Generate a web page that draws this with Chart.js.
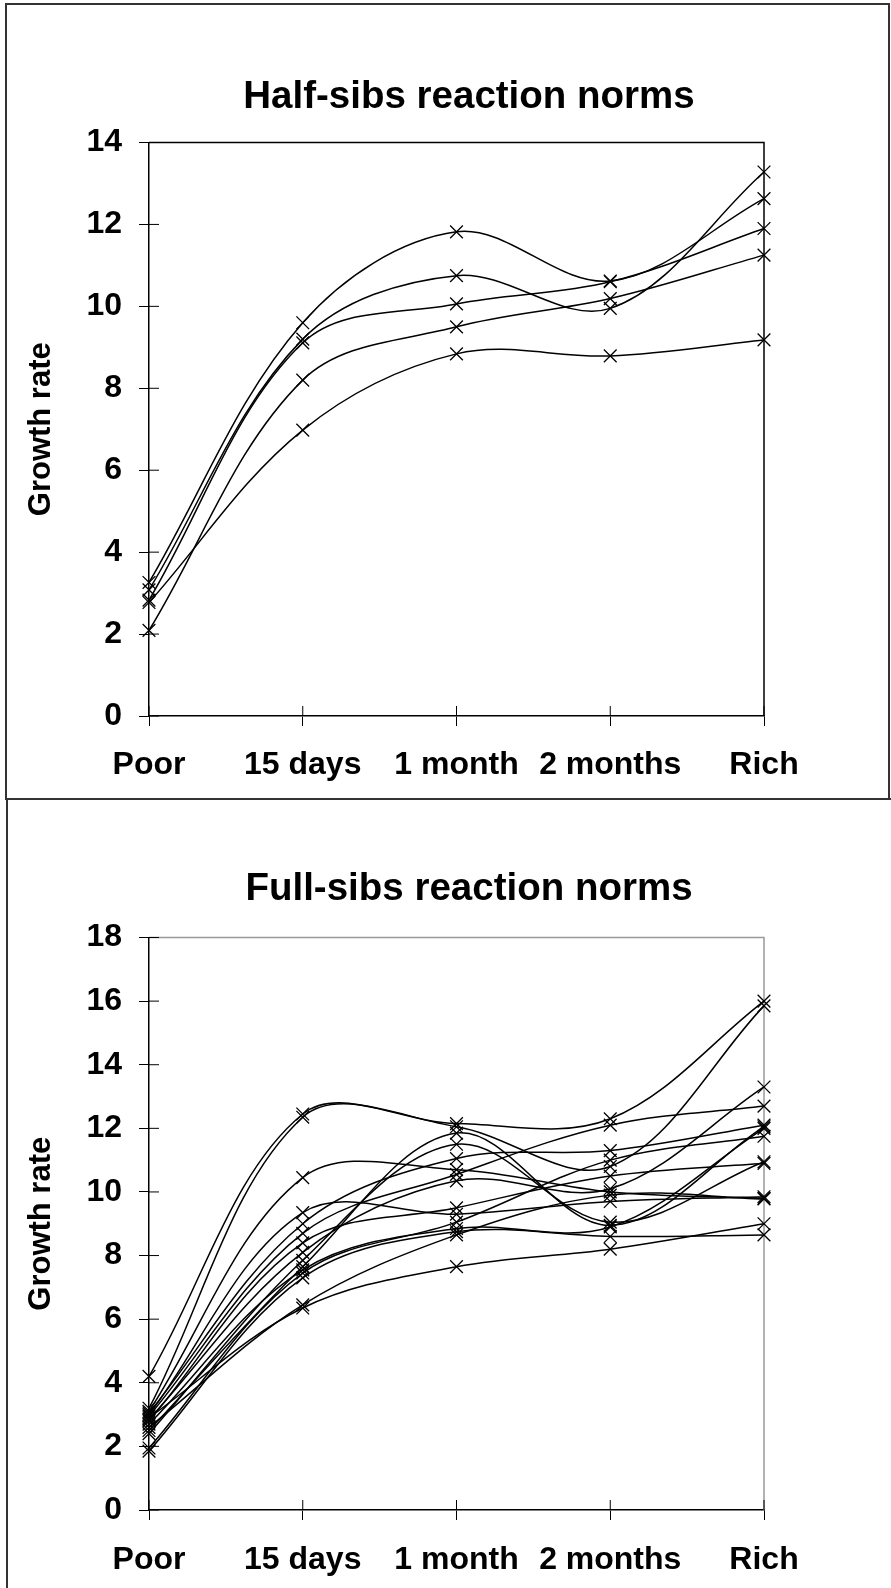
<!DOCTYPE html>
<html>
<head>
<meta charset="utf-8">
<script src="https://cdn.jsdelivr.net/npm/chart.js@4.4.1/dist/chart.umd.min.js"></script>
<style>
html, body { margin: 0; padding: 0; background: #fff; overflow: hidden; width: 891px; height: 1588px; position: relative; }
.box { position: absolute; box-sizing: border-box; border: 2px solid #333; }
#box1 { left: 5px; top: 3px; width: 885px; height: 797px; }
#box2 { left: 6px; top: 798px; width: 900px; height: 900px; }
canvas { position: absolute; left: 0; }
#halfChart { top: 0; }
#fullChart { top: 801px; }
</style>
</head>
<body>
<div class="box" id="box1"></div>
<div class="box" id="box2"></div>
<canvas id="halfChart" width="891" height="799"></canvas>
<canvas id="fullChart" width="891" height="787"></canvas>
<script>
const categories = ['Poor', '15 days', '1 month', '2 months', 'Rich'];

// half-sib families, one row per family
const halfSibs = [
  [3.26, 9.6, 11.82, 10.62, 12.63],
  [3.08, 9.2, 10.75, 9.95, 13.28],
  [2.83, 9.11, 10.06, 10.6, 11.9],
  [2.09, 8.2, 9.5, 10.19, 11.25],
  [2.77, 6.98, 8.84, 8.79, 9.18]
];

// full-sib families
const fullSibs = [
  [4.2, 12.45, 12.15, 12.3, 16.0],
  [3.2, 12.35, 12.05, 10.8, 15.85],
  [3.1, 10.45, 10.7, 10.0, 9.8],
  [2.5, 7.65, 11.85, 8.95, 12.05],
  [2.4, 7.85, 11.5, 9.05, 10.95],
  [3.05, 9.0, 11.05, 11.3, 12.1],
  [2.95, 8.7, 10.55, 12.1, 12.7],
  [2.85, 8.1, 10.35, 10.1, 13.3],
  [2.8, 8.4, 9.5, 10.5, 10.9],
  [3.0, 9.35, 9.3, 9.7, 9.85],
  [1.95, 7.45, 9.05, 11.0, 11.75],
  [2.7, 7.55, 8.85, 8.9, 12.0],
  [1.85, 7.3, 8.75, 8.6, 8.65],
  [2.9, 6.35, 7.65, 8.2, 9.0],
  [2.6, 6.45, 8.65, 9.9, 9.78]
];

const fam = "'Liberation Sans', Arial, sans-serif";

// top/right frame of the plot and the ticks that poke into the plot
const frame = {
  id: 'frame',
  beforeDatasetsDraw(chart, args, opts) {
    const {ctx, chartArea: a, scales: {x, y}} = chart;
    ctx.save();
    ctx.strokeStyle = opts.color;
    ctx.lineWidth = 1.5;
    ctx.beginPath();
    ctx.moveTo(a.left, a.top);
    ctx.lineTo(a.right, a.top);
    ctx.lineTo(a.right, a.bottom);
    ctx.stroke();
    ctx.strokeStyle = '#000';
    ctx.lineWidth = 1;
    ctx.beginPath();
    y.ticks.forEach((t, i) => {
      const p = y.getPixelForTick(i);
      ctx.moveTo(a.left, p);
      ctx.lineTo(a.left + 10, p);
    });
    x.ticks.forEach((t, i) => {
      const p = x.getPixelForTick(i);
      ctx.moveTo(p, a.bottom);
      ctx.lineTo(p, a.bottom - 10);
    });
    ctx.stroke();
    ctx.restore();
  }
};

function makeChart(id, titleText, series, yMax, g, frameColor) {
  return new Chart(document.getElementById(id), {
    type: 'line',
    data: {
      labels: categories,
      datasets: series.map((s, i) => ({
        label: 'Family ' + (i + 1),
        data: s,
        yAxisID: 'y',
        borderColor: '#000',
        borderWidth: 1.5,
        tension: 0.35,
        fill: false,
        clip: false,
        pointStyle: 'crossRot',
        pointRadius: 9,
        pointBorderWidth: 1.3,
        pointBorderColor: '#000',
        pointBackgroundColor: 'rgba(0,0,0,0)'
      }))
    },
    options: {
      responsive: false,
      animation: false,
      layout: { padding: { left: 47, right: 0, top: 0, bottom: 0 } },
      plugins: {
        legend: { display: false },
        tooltip: { enabled: false },
        title: {
          display: true,
          text: titleText,
          color: '#000',
          font: { family: fam, size: 38.5, weight: 'bold', lineHeight: 1 },
          padding: { top: g.titleTop, bottom: g.titleBottom }
        },
        frame: { color: frameColor }
      },
      scales: {
        x: {
          offset: false,
          grid: { drawOnChartArea: false, drawTicks: true, tickLength: 10, color: '#000', lineWidth: 1 },
          border: { color: '#000', width: 1.5 },
          ticks: {
            color: '#000',
            font: { family: fam, size: 32, weight: 'bold', lineHeight: 1 },
            padding: g.xPad,
            maxRotation: 0,
            minRotation: 0,
            autoSkip: false
          },
          afterFit: s => { s.height = g.xHeight; }
        },
        y: {
          min: 0,
          max: yMax,
          grid: { drawOnChartArea: false, drawTicks: true, tickLength: 10, color: '#000', lineWidth: 1 },
          border: { color: '#000', width: 1.5 },
          ticks: {
            stepSize: 2,
            color: '#000',
            font: { family: fam, size: 32, weight: 'bold', lineHeight: 1 },
            padding: 17
          },
          title: {
            display: true,
            text: 'Growth rate',
            color: '#000',
            font: { family: fam, size: 31, weight: 'bold', lineHeight: 1 },
            padding: { top: -21.5, bottom: 0 }
          },
          afterFit: s => { s.width = 102; }
        },
        // empty space on the right of the plot
        yR: {
          position: 'right',
          display: true,
          grid: { display: false },
          border: { display: false },
          ticks: { display: false },
          afterFit: s => { s.width = 127; }
        }
      }
    },
    plugins: [frame]
  });
}

makeChart('halfChart', 'Half-sibs reaction norms', halfSibs, 14,
  { titleTop: 78, titleBottom: 26, xPad: 23, xHeight: 83 }, '#000');
makeChart('fullChart', 'Full-sibs reaction norms', fullSibs, 18,
  { titleTop: 69, titleBottom: 29, xPad: 24, xHeight: 78 }, '#999');
</script>
</body>
</html>
